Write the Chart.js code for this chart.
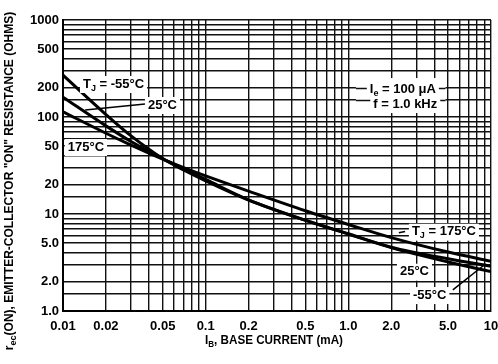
<!DOCTYPE html>
<html>
<head>
<meta charset="utf-8">
<script src="https://cdn.jsdelivr.net/npm/chart.js@4.4.0/dist/chart.umd.min.js"></script>
<style>
  html, body { margin: 0; padding: 0; background: #fff; }
  #wrap { width: 498px; height: 364px; }
</style>
</head>
<body>
<div id="wrap"><canvas id="graph" width="498" height="364"></canvas></div>
<script>
// I_B, base current (mA)
const baseCurrent = [0.01, 0.02, 0.03, 0.05, 0.07, 0.1, 0.2, 0.5, 1, 2, 5, 10];
// r_ec(ON) in ohms, one array per junction temperature
const resMinus55 = [270, 106, 63.8, 37.3, 28.5, 22, 13.9, 8.6, 6.2, 4.5, 3.2, 2.55];
const res25 = [160, 81, 55.8, 37.1, 29.1, 22.7, 14.0, 8.65, 6.25, 4.55, 3.45, 2.9];
const res175 = [113, 68, 51.3, 36.8, 30.1, 24.7, 17.2, 10.8, 7.8, 5.71, 4.05, 3.25];

// labelled ticks
const xLabelValues = [0.01, 0.02, 0.05, 0.1, 0.2, 0.5, 1, 2, 5, 10];
const xLabelText = ['0.01', '0.02', '0.05', '0.1', '0.2', '0.5', '1.0', '2.0', '5.0', '10'];
const yLabelValues = [1, 2, 5, 10, 20, 50, 100, 200, 500, 1000];
const yLabelText = ['1.0', '2.0', '5.0', '10', '20', '50', '100', '200', '500', '1000'];

// log paper grid
const xDecades = [0.01, 0.1, 1];
const xSteps = [1, 2, 3, 4, 5, 6, 7, 8, 9];
const yDecades = [1, 10, 100];
const ySteps = [1, 1.5, 2, 3, 4, 5, 6, 7, 8, 9];

const FONT = "'Liberation Sans', Arial, sans-serif";

function gridValues(decades, steps, last) {
  const out = [];
  decades.forEach(d => steps.forEach(s => out.push(+(d * s).toPrecision(4))));
  out.push(last);
  return out;
}
const xGrid = gridValues(xDecades, xSteps, 10);
const yGrid = gridValues(yDecades, ySteps, 1000);

function lookup(values, texts, v) {
  const i = values.findIndex(a => Math.abs(a - v) / a < 1e-6);
  return i >= 0 ? texts[i] : '';
}

function points(ys) {
  return baseCurrent.map((x, i) => ({ x: x, y: ys[i] }));
}

function fontFor(mode, size) {
  const s = mode ? Math.round(size * 0.72) : size;
  return 'bold ' + s + 'px ' + FONT;
}
function richWidth(ctx, parts, size) {
  let w = 0;
  parts.forEach(([t, mode]) => { ctx.font = fontFor(mode, size); w += ctx.measureText(t).width; });
  return w;
}
function drawRich(ctx, parts, x, y, size, align, fit) {
  const w = richWidth(ctx, parts, size);
  const f = fit && w > fit ? fit / w : 1;
  const tw = w * f;
  const left = align === 'right' ? x - tw : align === 'center' ? x - tw / 2 : x;
  ctx.save();
  ctx.translate(left, y);
  ctx.scale(f, 1);
  ctx.textBaseline = 'middle';
  ctx.textAlign = 'left';
  ctx.fillStyle = '#000';
  let cx = 0;
  for (const [t, mode] of parts) {
    ctx.font = fontFor(mode, size);
    const dy = mode === 'sub' ? size * 0.32 : mode === 'sup' ? -size * 0.38 : 0;
    ctx.fillText(t, cx, dy);
    cx += ctx.measureText(t).width;
  }
  ctx.restore();
  return { left: left, width: tw };
}

// annotations, placed in data coordinates
const notes = [
  { x: 0.0138, y: 219, align: 'left', parts: [['T'], ['J', 'sub'], [' = -55°C']] },
  { x: 0.0394, y: 133, align: 'left', parts: [['25°C']] },
  { x: 0.0108, y: 49, align: 'left', parts: [['175°C']] },
  { x: 2.79, y: 6.57, align: 'left', parts: [['T'], ['J', 'sub'], [' = 175°C']] },
  { x: 2.30, y: 2.54, align: 'left', parts: [['25°C']] },
  { x: 2.84, y: 1.46, align: 'left', parts: [['-55°C']] }
];
const leaders = [
  [0.0143, 118, 0.0376, 136],
  [5.4, 1.65, 9.0, 3.0],
  [2.26, 6.4, 2.5, 6.6]
];
const condBox = [1.13, 252, 4.8, 118];
const condLines = [200, 150];
const condNotes = [
  { x: 4.11, y: 194, parts: [['I'], ['e', 'sub'], [' = 100 μA']] },
  { x: 4.2, y: 136, parts: [['f = 1.0 kHz']] }
];

const decorations = {
  id: 'decorations',
  afterDatasetsDraw(chart) {
    const ctx = chart.ctx;
    const xs = chart.scales.x, ys = chart.scales.y;
    const px = v => xs.getPixelForValue(v), py = v => ys.getPixelForValue(v);
    const size = 13;

    // test conditions block
    ctx.save();
    ctx.fillStyle = '#fff';
    const bx0 = px(condBox[0]), by0 = py(condBox[1]), bx1 = px(condBox[2]), by1 = py(condBox[3]);
    ctx.fillRect(bx0, by0, bx1 - bx0, by1 - by0);
    ctx.strokeStyle = '#111';
    ctx.lineWidth = 1.4;
    condLines.forEach(v => {
      const y = Math.round(py(v)) + 0.5;
      ctx.beginPath(); ctx.moveTo(bx0, y); ctx.lineTo(bx1, y); ctx.stroke();
    });
    condNotes.forEach(n => {
      const w = richWidth(ctx, n.parts, size);
      const x = px(n.x), y = py(n.y);
      ctx.fillStyle = '#fff';
      ctx.fillRect(x - w - 3, y - 8, w + 6, 17);
      drawRich(ctx, n.parts, x, y, size, 'right');
    });

    // leader lines
    ctx.strokeStyle = '#000';
    ctx.lineWidth = 1.5;
    leaders.forEach(([x1, y1, x2, y2]) => {
      ctx.beginPath(); ctx.moveTo(px(x1), py(y1)); ctx.lineTo(px(x2), py(y2)); ctx.stroke();
    });

    // curve labels
    notes.forEach(n => {
      const w = richWidth(ctx, n.parts, size);
      const x = px(n.x), y = py(n.y);
      ctx.fillStyle = '#fff';
      ctx.fillRect(x - 3, y - 8, w + 6, 17);
      drawRich(ctx, n.parts, x, y, size, 'left');
    });
    ctx.restore();
  },
  afterDraw(chart) {
    const ctx = chart.ctx;
    // x axis title
    drawRich(ctx, [['I'], ['B', 'sub'], [', BASE CURRENT (mA)']], 274, 340, 13, 'center', 138);
    // y axis title
    ctx.save();
    ctx.translate(10, 181);
    ctx.rotate(-Math.PI / 2);
    drawRich(ctx, [['r'], ['ec', 'sub'], ['(ON), EMITTER-COLLECTOR "ON" RESISTANCE (OHMS)']], 0, 0, 12, 'center', 352);
    ctx.restore();
  }
};

const line = { borderColor: '#000', borderWidth: 3, pointRadius: 0, fill: false, cubicInterpolationMode: 'monotone' };

new Chart(document.getElementById('graph'), {
  type: 'line',
  data: {
    datasets: [
      Object.assign({ label: 'TJ = -55°C', data: points(resMinus55) }, line),
      Object.assign({ label: 'TJ = 25°C', data: points(res25) }, line),
      Object.assign({ label: 'TJ = 175°C', data: points(res175) }, line)
    ]
  },
  options: {
    responsive: false,
    animation: false,
    layout: { padding: { top: 20, right: 7, left: 0, bottom: 0 } },
    plugins: { legend: { display: false }, tooltip: { enabled: false } },
    scales: {
      x: {
        type: 'logarithmic',
        min: 0.01,
        max: 10,
        afterBuildTicks: s => { s.ticks = xGrid.map(v => ({ value: v })); },
        afterFit: s => { s.height = 53; s.paddingLeft = 0; s.paddingRight = 0; },
        grid: { color: '#111', lineWidth: 1.4, drawTicks: false },
        border: { color: '#000', width: 2 },
        ticks: {
          autoSkip: false, maxRotation: 0, padding: 8, color: '#000',
          font: { family: FONT, size: 13, weight: 'bold' },
          callback: v => lookup(xLabelValues, xLabelText, v)
        }
      },
      y: {
        type: 'logarithmic',
        min: 1,
        max: 1000,
        afterBuildTicks: s => { s.ticks = yGrid.map(v => ({ value: v })); },
        afterFit: s => { s.width = 63; s.paddingTop = 0; s.paddingBottom = 0; },
        grid: { color: '#111', lineWidth: 1.4, drawTicks: false },
        border: { color: '#000', width: 2 },
        ticks: {
          autoSkip: false, padding: 4, color: '#000',
          font: { family: FONT, size: 13, weight: 'bold' },
          callback: v => lookup(yLabelValues, yLabelText, v)
        }
      }
    }
  },
  plugins: [decorations]
});
</script>
</body>
</html>
